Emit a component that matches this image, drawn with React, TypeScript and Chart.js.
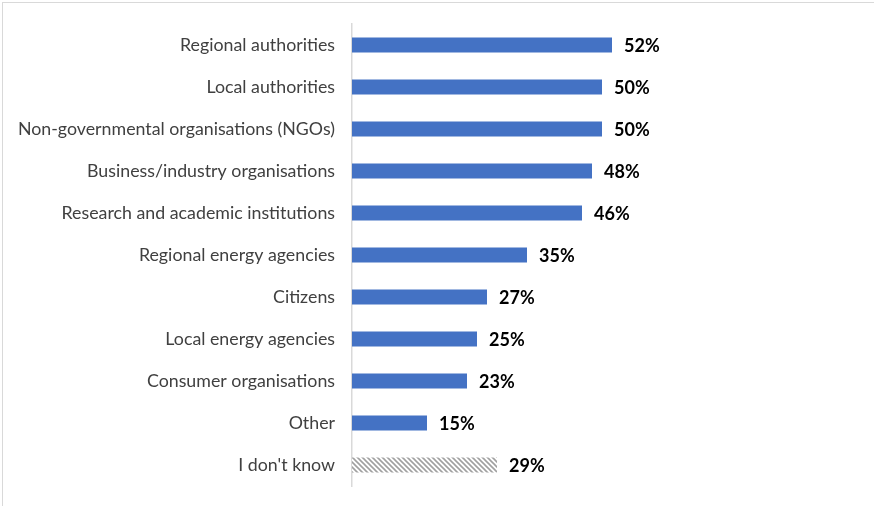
import React, { useEffect, useRef } from "react";
import { Chart, registerables } from "chart.js";

Chart.register(...registerables);

const categories = [
  "Regional authorities",
  "Local authorities",
  "Non-governmental organisations (NGOs)",
  "Business/industry organisations",
  "Research and academic institutions",
  "Regional energy agencies",
  "Citizens",
  "Local energy agencies",
  "Consumer organisations",
  "Other",
  "I don't know",
];

const values = [52, 50, 50, 48, 46, 35, 27, 25, 23, 15, 29];

const FONT = "Lato, 'Liberation Sans', sans-serif";

function makeHatch(): CanvasPattern | string {
  const c = document.createElement("canvas");
  c.width = 5;
  c.height = 5;
  const ctx = c.getContext("2d");
  if (!ctx) return "#a6a6a6";
  ctx.fillStyle = "#ffffff";
  ctx.fillRect(0, 0, 5, 5);
  ctx.strokeStyle = "#a0a0a0";
  ctx.lineWidth = 1.6;
  ctx.beginPath();
  ctx.moveTo(0, 0);
  ctx.lineTo(5, 5);
  ctx.moveTo(-1, 4);
  ctx.lineTo(1, 6);
  ctx.moveTo(4, -1);
  ctx.lineTo(6, 1);
  ctx.stroke();
  return ctx.createPattern(c, "repeat") || "#a6a6a6";
}

const valueLabels = {
  id: "valueLabels",
  afterDatasetsDraw(chart: any) {
    const ctx = chart.ctx;
    const meta = chart.getDatasetMeta(0);
    ctx.save();
    ctx.font = `bold 18px ${FONT}`;
    ctx.fillStyle = "#000000";
    ctx.textAlign = "left";
    ctx.textBaseline = "middle";
    meta.data.forEach((bar: any, i: number) => {
      ctx.fillText(`${values[i]}%`, bar.x + 12, bar.y + 1);
    });
    ctx.restore();
  },
};

export default function App() {
  const ref = useRef<HTMLCanvasElement>(null);

  useEffect(() => {
    document.body.style.margin = "0";
    const canvas = ref.current;
    if (!canvas) return;
    const hatch = makeHatch();
    const colors = values.map((_, i) =>
      i === values.length - 1 ? hatch : "#4472c4"
    );
    const chart = new Chart(canvas, {
      type: "bar",
      data: {
        labels: categories,
        datasets: [
          {
            data: values,
            backgroundColor: colors as any,
            borderWidth: 0,
            barPercentage: 0.72,
            categoryPercentage: 0.5,
          },
        ],
      },
      options: {
        indexAxis: "y",
        animation: false,
        responsive: false,
        maintainAspectRatio: false,
        layout: { padding: { left: 0, right: 22, top: 24, bottom: 20 } },
        plugins: {
          legend: { display: false },
          tooltip: { enabled: false },
        },
        scales: {
          x: {
            display: false,
            min: 0,
            max: 100,
          },
          y: {
            afterFit: (s: any) => {
              s.width = 352;
              s.paddingTop = 0;
              s.paddingBottom = 0;
            },
            grid: { display: false, drawTicks: false },
            border: { display: true, color: "#d9d9d9", width: 1.5 },
            ticks: {
              padding: 17,
              color: "#404040",
              font: { family: FONT, size: 17.8 },
            },
          },
        },
      },
      plugins: [valueLabels],
    });
    return () => chart.destroy();
  }, []);

  return (
    <div
      style={{
        position: "fixed",
        left: 0,
        top: 0,
        width: 874,
        height: 506,
        background: "#ffffff",
        overflow: "hidden",
      }}
    >
      <div
        style={{
          position: "absolute",
          left: 2,
          top: 2,
          width: 900,
          height: 540,
          border: "1px solid #d9d9d9",
          boxSizing: "border-box",
        }}
      />
      <canvas
        ref={ref}
        width={874}
        height={506}
        style={{ position: "absolute", left: 0, top: 0, width: 874, height: 506 }}
      />
    </div>
  );
}
